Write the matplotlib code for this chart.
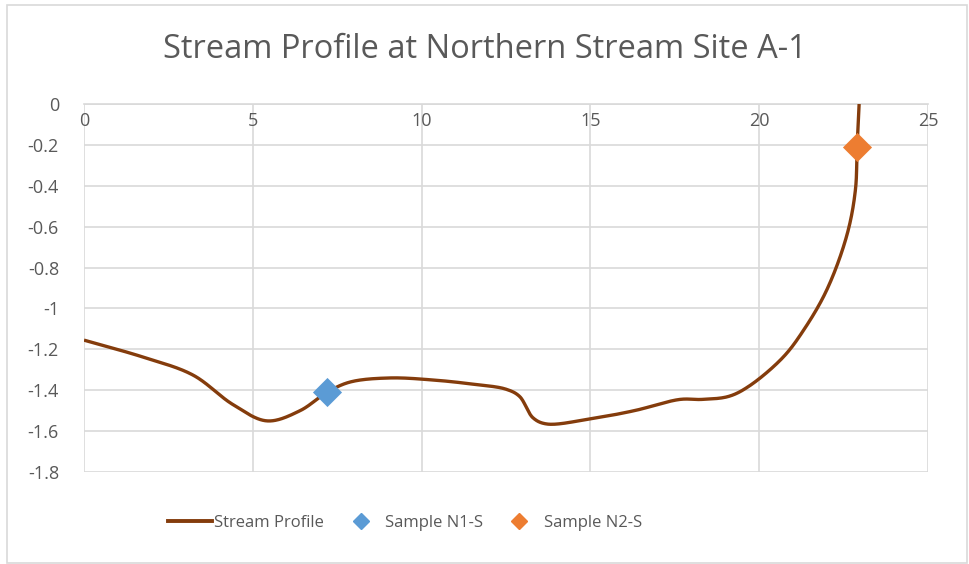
import numpy as np
import matplotlib
matplotlib.use("Agg")
import matplotlib.pyplot as plt
from matplotlib.patches import Rectangle
from matplotlib.lines import Line2D

# ---- data ----
profile_x = [0.0, 1.75, 3.23, 4.41, 5.42, 6.4, 7.2, 7.88, 9.06, 10.34, 11.5, 12.5, 12.9,
             13.3, 13.7, 15.0, 16.3, 17.65, 18.3, 19.1, 19.7, 20.7, 21.3, 22.0, 22.6, 22.85,
             22.9, 22.96]
profile_y = [-1.155, -1.238, -1.326, -1.47, -1.55, -1.50, -1.41, -1.36, -1.34, -1.35, -1.37, -1.395, -1.43,
             -1.535, -1.565, -1.54, -1.50, -1.445, -1.445, -1.43, -1.38, -1.24, -1.11, -0.91, -0.64, -0.42,
             -0.21, 0.0]
n1_x, n1_y = [7.2], [-1.41]
n2_x, n2_y = [22.9], [-0.21]
x_ticks = [0, 5, 10, 15, 20, 25]
y_ticks = [0, -0.2, -0.4, -0.6, -0.8, -1, -1.2, -1.4, -1.6, -1.8]
y_labels = ["0", "-0.2", "-0.4", "-0.6", "-0.8", "-1", "-1.2", "-1.4", "-1.6", "-1.8"]
title = "Stream Profile at Northern Stream Site A-1"


def centripetal_cr(xs, ys, yscale=6.05, n=40):
    """Centripetal Catmull-Rom through the points (smoothed line like Excel)."""
    P = np.column_stack([np.asarray(xs, float), np.asarray(ys, float) * yscale])
    P = np.vstack([2 * P[0] - P[1], P, 2 * P[-1] - P[-2]])
    out = []
    for i in range(1, len(P) - 2):
        p0, p1, p2, p3 = P[i - 1], P[i], P[i + 1], P[i + 2]
        t0 = 0.0
        t1 = t0 + np.linalg.norm(p1 - p0) ** 0.5
        t2 = t1 + np.linalg.norm(p2 - p1) ** 0.5
        t3 = t2 + np.linalg.norm(p3 - p2) ** 0.5
        t = np.linspace(t1, t2, n, endpoint=False)[:, None]
        a1 = (t1 - t) / (t1 - t0) * p0 + (t - t0) / (t1 - t0) * p1
        a2 = (t2 - t) / (t2 - t1) * p1 + (t - t1) / (t2 - t1) * p2
        a3 = (t3 - t) / (t3 - t2) * p2 + (t - t2) / (t3 - t2) * p3
        b1 = (t2 - t) / (t2 - t0) * a1 + (t - t0) / (t2 - t0) * a2
        b2 = (t3 - t) / (t3 - t1) * a2 + (t - t1) / (t3 - t1) * a3
        c = (t2 - t) / (t2 - t1) * b1 + (t - t1) / (t2 - t1) * b2
        out.append(c)
    out.append(P[-2][None, :])
    S = np.vstack(out)
    return S[:, 0], S[:, 1] / yscale


plt.rcParams['font.family'] = ['Open Sans', 'DejaVu Sans']
text_col = '#595959'
grid_col = '#D9D9D9'

fig = plt.figure(figsize=(9.69, 5.64), dpi=100)
fig.patches.append(Rectangle((7 / 969, 1 - 563 / 564), 960 / 969, 558 / 564,
                             transform=fig.transFigure, fill=False,
                             edgecolor=grid_col, linewidth=1.2))

ax = fig.add_axes([84 / 969, 1 - 472 / 564, (928 - 84) / 969, (472 - 104) / 564])
ax.set_xlim(0, 25)
ax.set_ylim(-1.8, 0)

sx, sy = centripetal_cr(profile_x, profile_y)
ax.plot(sx, sy, color='#843C0C', linewidth=2.4, label='Stream Profile', zorder=3,
        solid_capstyle='butt', solid_joinstyle='round')
ax.scatter(n1_x, n1_y, marker='D', s=220, color='#5B9BD5', label='Sample N1-S', zorder=4,
           linewidths=0)
ax.scatter(n2_x, n2_y, marker='D', s=220, color='#ED7D31', label='Sample N2-S', zorder=4,
           linewidths=0)

ax.set_xticks(x_ticks)
ax.set_yticks(y_ticks)
ax.set_yticklabels(y_labels)
ax.grid(True, color=grid_col, linewidth=1.2)
ax.set_axisbelow(True)
for s in ['top', 'right', 'left', 'bottom']:
    ax.spines[s].set_visible(False)
ax.spines['bottom'].set_visible(True)
ax.spines['bottom'].set_position(('data', 0))
ax.spines['bottom'].set_color(grid_col)
ax.spines['bottom'].set_linewidth(1.2)
ax.tick_params(axis='both', length=0, colors=text_col, labelsize=13)
ax.tick_params(axis='x', pad=6)
ax.tick_params(axis='y', pad=18)

fig.text(485 / 969, 1 - 50 / 564, title, ha='center', va='center', fontsize=23.5, color=text_col)

handles = [Line2D([], [], color='#843C0C', linewidth=2.8),
           Line2D([], [], marker='D', linestyle='none', markersize=8, color='#5B9BD5'),
           Line2D([], [], marker='D', linestyle='none', markersize=8, color='#ED7D31')]
leg = fig.legend(handles, ['Stream Profile', 'Sample N1-S', 'Sample N2-S'],
                 loc='center', bbox_to_anchor=(405 / 969, 1 - 523 / 564), ncol=3,
                 frameon=False, fontsize=12, handlelength=2.6, handletextpad=0.15,
                 columnspacing=0.9)
for t in leg.get_texts():
    t.set_color(text_col)

fig.savefig('out.png', dpi=100)
